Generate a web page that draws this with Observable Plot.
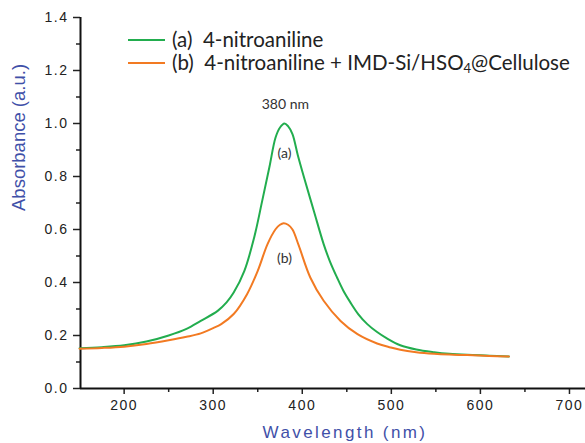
<!DOCTYPE html>
<html>
<head>
<meta charset="utf-8">
<script src="https://cdn.jsdelivr.net/npm/d3@7"></script>
<script src="https://cdn.jsdelivr.net/npm/@observablehq/plot@0.6"></script>
<style>
  html, body { margin: 0; padding: 0; background: #fff; }
  #wrap { position: relative; width: 585px; height: 443px; overflow: hidden; }
  #legend { position: absolute; left: 128px; top: 28px; font-family: Lato, "Open Sans", sans-serif; font-size: 20.5px; color: #222; line-height: 23px; }
  #legend .row { display: flex; align-items: center; white-space: nowrap; }
  #legend .sw { display: inline-block; width: 37px; height: 0; border-top: 2px solid; margin-right: 7px; }
  #legend sub { font-size: 13px; vertical-align: -3px; line-height: 0; }
  .tk text { letter-spacing: 1.5px; }
</style>
</head>
<body>
<div id="wrap"></div>
<script>
// Series (a): 4-nitroaniline
const wlA = [150,175,200,225,250,270,286,305,315,323,335,346,355,363,370,375,380,384,389,395,402,413,424,431,439,446,454,463,473,484,495,510,528,548,565,585,610,632];
const absA = [0.152,0.156,0.163,0.177,0.200,0.225,0.255,0.293,0.325,0.362,0.444,0.57,0.708,0.834,0.947,0.985,1.0,0.99,0.96,0.88,0.796,0.67,0.545,0.48,0.419,0.37,0.325,0.28,0.243,0.213,0.189,0.163,0.147,0.137,0.131,0.127,0.124,0.121];
// Series (b): 4-nitroaniline + IMD-Si/HSO4@Cellulose
const wlB = [150,175,200,225,250,270,286,300,309,323,338,350,361,370,375,379,384,389,396,409,424,443,462,484,499,510,528,548,565,585,610,632];
const absB = [0.150,0.153,0.158,0.168,0.182,0.195,0.208,0.228,0.243,0.281,0.356,0.444,0.545,0.601,0.618,0.624,0.618,0.60,0.54,0.419,0.331,0.255,0.205,0.17,0.155,0.146,0.137,0.131,0.128,0.126,0.123,0.121];

const legendLabels = ["(a)&nbsp; 4-nitroaniline", "(b)&nbsp; 4-nitroaniline + IMD-Si/HSO<sub>4</sub>@Cellulose"];
const colors = ["#22ad4e", "#f27a22"];

const xMajor = [200,300,400,500,600,700];
const xMinor = [250,350,450,550,650];
const yMajor = [0,0.2,0.4,0.6,0.8,1.0,1.2,1.4];
const yMinor = [0.1,0.3,0.5,0.7,0.9,1.1,1.3];

const annText = ["380 nm", "(a)", "(b)"];
const annX = [381, 380, 380];
const annY = [1.07, 0.886, 0.49];

const xLabel = "Wavelength (nm)";
const yLabel = "Absorbance (a.u.)";

const dataA = wlA.map((w,i) => ({w, a: absA[i]}));
const dataB = wlB.map((w,i) => ({w, a: absB[i]}));
const ann = annText.map((t,i) => ({t, x: annX[i], y: annY[i]}));

const tickFont = "Liberation Sans, Arial, sans-serif";

const chart = Plot.plot({
  width: 585,
  height: 443,
  marginLeft: 80,
  marginRight: 0,
  marginTop: 17,
  marginBottom: 55,
  style: {background: "#fff", overflow: "visible"},
  x: {domain: [151, 718]},
  y: {domain: [0, 1.4]},
  marks: [
    Plot.axisX({ticks: xMajor, tickSize: 6, tickPadding: 6, tickFormat: d => String(d), fontSize: 14, fontFamily: tickFont, color: "#222", strokeWidth: 1.5, label: null, className: "tk"}),
    Plot.axisX({ticks: xMinor, tickSize: 4, tickFormat: () => "", color: "#222", strokeWidth: 1.5, label: null}),
    Plot.axisY({ticks: yMajor, tickSize: 7, tickPadding: 5, tickFormat: d3.format(".1f"), fontSize: 14, fontFamily: tickFont, color: "#222", strokeWidth: 1.5, label: null, className: "tk"}),
    Plot.axisY({ticks: yMinor, tickSize: 4, tickFormat: () => "", color: "#222", strokeWidth: 1.5, label: null}),
    Plot.ruleY([0], {stroke: "#111", strokeWidth: 2}),
    Plot.ruleX([151], {y1: 0, y2: 1.4, stroke: "#111", strokeWidth: 2}),
    Plot.line(dataA, {x: "w", y: "a", stroke: colors[0], strokeWidth: 2, curve: "catmull-rom"}),
    Plot.line(dataB, {x: "w", y: "a", stroke: colors[1], strokeWidth: 2, curve: "catmull-rom"}),
    Plot.text(ann, {x: "x", y: "y", text: "t", fontSize: 14, fill: "#333", fontFamily: "Lato, 'Open Sans', sans-serif"}),
    Plot.text([yLabel], {frameAnchor: "left", rotate: -90, dx: -61, dy: 8, fontSize: 18.5, fill: "#3f50a8", fontFamily: tickFont}),
    Plot.text([xLabel], {frameAnchor: "bottom", dx: 12, dy: 49, fontSize: 17, fill: "#3f50a8", fontFamily: tickFont, className: "xl"})
  ]
});

const wrap = document.getElementById("wrap");
wrap.appendChild(chart);
const style = document.createElement("style");
style.textContent = ".xl text { letter-spacing: 2.4px; }";
document.head.appendChild(style);

const legend = document.createElement("div");
legend.id = "legend";
legend.innerHTML = legendLabels.map((l,i) => `<div class="row"><span class="sw" style="border-color:${colors[i]}"></span><span>${l}</span></div>`).join("");
wrap.appendChild(legend);
</script>
</body>
</html>
